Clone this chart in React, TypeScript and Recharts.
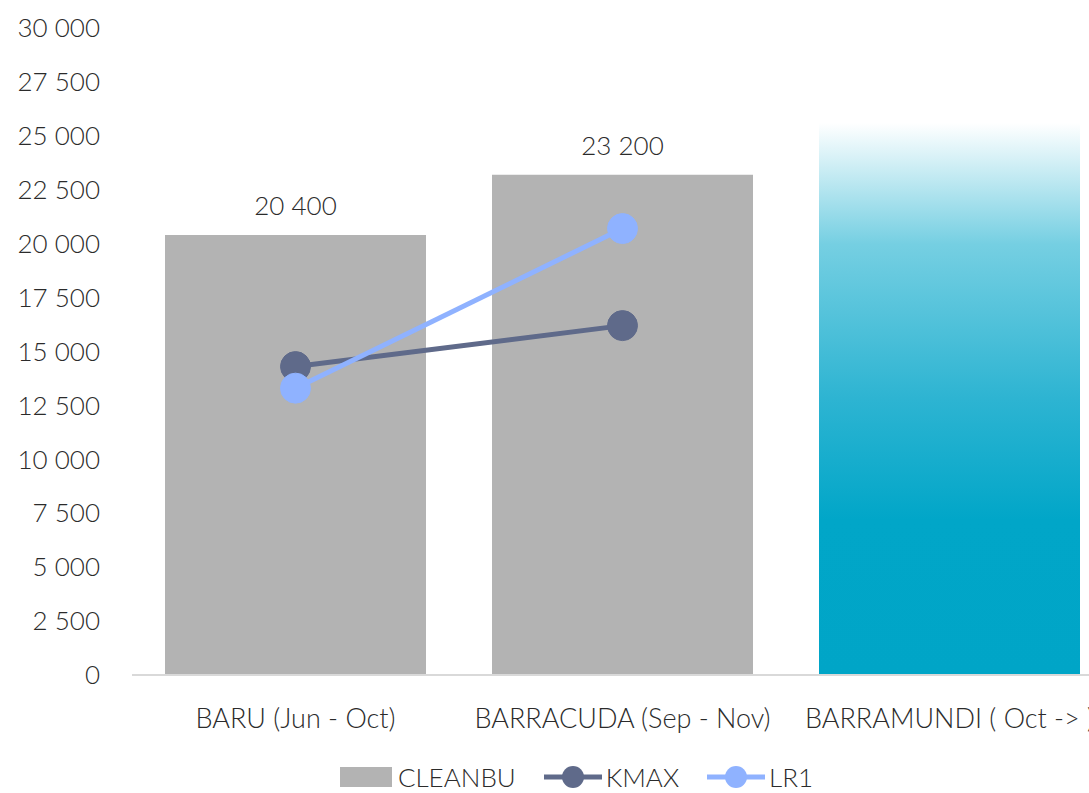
import {
  ComposedChart,
  Bar,
  Line,
  Cell,
  XAxis,
  YAxis,
  LabelList,
  Legend,
} from 'recharts';

const categories = ['BARU (Jun - Oct)', 'BARRACUDA (Sep - Nov)', 'BARRAMUNDI ( Oct -> )'];
const cleanbu = [20400, 23200, 25600];
const kmax = [14300, 16200, null];
const lr1 = [13300, 20700, null];
const yTicks = [0, 2500, 5000, 7500, 10000, 12500, 15000, 17500, 20000, 22500, 25000, 27500, 30000];

const fmt = (v: number) => String(v).replace(/\B(?=(\d{3})+(?!\d))/g, ' ');

const data = categories.map((name, i) => ({
  name,
  CLEANBU: cleanbu[i],
  KMAX: kmax[i],
  LR1: lr1[i],
  label: i < 2 ? fmt(cleanbu[i]) : '',
}));

const font = "Lato, 'Source Sans Pro', sans-serif";
const textColor = '#2b2b2b';
const gray = '#b3b3b3';
const kmaxColor = '#5f6a8a';
const lr1Color = '#8fb2ff';

const LegendContent = () => (
  <div
    style={{
      display: 'flex',
      justifyContent: 'center',
      alignItems: 'center',
      gap: 28,
      fontFamily: font,
      fontWeight: 300,
      fontSize: 26,
      lineHeight: '32px',
      height: 32,
      color: textColor,
      marginLeft: 40,
    }}
  >
    <div style={{ display: 'flex', alignItems: 'center', gap: 6 }}>
      <div style={{ width: 52, height: 20, background: gray }} />
      <span>CLEANBU</span>
    </div>
    {[
      ['KMAX', kmaxColor],
      ['LR1', lr1Color],
    ].map(([n, c]) => (
      <div key={n} style={{ display: 'flex', alignItems: 'center', gap: 4 }}>
        <svg width={58} height={24}>
          <line x1={0} y1={12} x2={58} y2={12} stroke={c} strokeWidth={5} />
          <circle cx={29} cy={12} r={11} fill={c} />
        </svg>
        <span>{n}</span>
      </div>
    ))}
  </div>
);

export default function App() {
  return (
    <div
      style={{
        position: 'absolute',
        left: 0,
        top: 0,
        width: 1089,
        height: 793,
        overflow: 'hidden',
        background: '#fff',
      }}
    >
      <ComposedChart
        width={1113}
        height={793}
        data={data}
        margin={{ top: 28, right: 0, bottom: 0, left: 0 }}
        barCategoryGap="10%"
      >
        <defs>
          <linearGradient id="tealGrad" x1="0" y1="0" x2="0" y2="1">
            <stop offset="0%" stopColor="#ffffff" />
            <stop offset="22%" stopColor="#75cfe2" />
            <stop offset="50%" stopColor="#2db4d2" />
            <stop offset="72%" stopColor="#01a6c8" />
            <stop offset="100%" stopColor="#00a5c7" />
          </linearGradient>
        </defs>
        <XAxis
          dataKey="name"
          axisLine={{ stroke: '#d9d9d9', strokeWidth: 2 }}
          tickLine={false}
          tickSize={0}
          tickMargin={34}
          height={86}
          interval={0}
          tick={{ fill: textColor, fontSize: 27, fontFamily: font, fontWeight: 300 }}
        />
        <YAxis
          domain={[0, 30000]}
          ticks={yTicks}
          tickFormatter={fmt}
          axisLine={false}
          tickLine={false}
          tickSize={0}
          tickMargin={32}
          width={132}
          tick={{ fill: textColor, fontSize: 26, fontFamily: font, fontWeight: 300 }}
        />
        <Legend verticalAlign="bottom" height={32} content={<LegendContent />} />
        <Bar dataKey="CLEANBU" fill={gray} barSize={261} isAnimationActive={false}>
          {data.map((_, i) => (
            <Cell key={i} fill={i === 2 ? 'url(#tealGrad)' : gray} />
          ))}
          <LabelList
            dataKey="label"
            position="top"
            offset={20}
            fill={textColor}
            fontSize={26}
            fontFamily={font}
            fontWeight={300}
          />
        </Bar>
        <Line
          dataKey="KMAX"
          stroke={kmaxColor}
          strokeWidth={5}
          dot={{ r: 15, fill: kmaxColor, stroke: kmaxColor, strokeWidth: 1 }}
          isAnimationActive={false}
        />
        <Line
          dataKey="LR1"
          stroke={lr1Color}
          strokeWidth={5}
          dot={{ r: 15, fill: lr1Color, stroke: lr1Color, strokeWidth: 1 }}
          isAnimationActive={false}
        />
      </ComposedChart>
    </div>
  );
}
